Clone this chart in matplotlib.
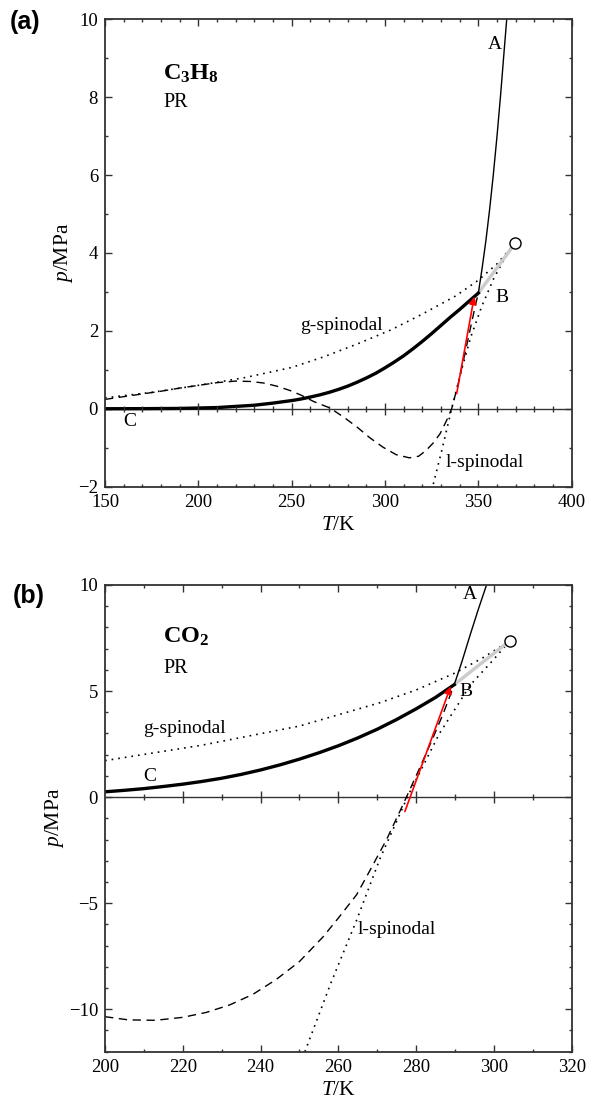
import numpy as np
import matplotlib.pyplot as plt
from matplotlib.ticker import MultipleLocator

plt.rcParams['font.family'] = 'Liberation Serif'
plt.rcParams['mathtext.fontset'] = 'custom'
plt.rcParams['mathtext.rm'] = 'Liberation Serif'
plt.rcParams['mathtext.it'] = 'Liberation Serif:italic'
plt.rcParams['mathtext.bf'] = 'Liberation Serif:bold'

# (a) propane, Peng-Robinson
T_sat_a = [150, 170, 190, 210, 230, 240, 250, 255, 260, 265, 270, 275, 280, 285, 290, 295,
           300, 305, 310, 315, 320, 325, 330, 335, 340, 345, 350]
p_sat_a = [0.0003, 0.002, 0.008, 0.03, 0.09, 0.145, 0.21, 0.25, 0.30, 0.355, 0.42, 0.495, 0.58,
           0.68, 0.79, 0.91, 1.05, 1.20, 1.36, 1.54, 1.73, 1.93, 2.14, 2.35, 2.55, 2.76, 2.97]

T_A_a = [350.0, 352.0, 354.0, 356.0, 358.0, 360.0, 362.0, 364.0, 365.2, 366.0]
p_A_a = [2.97, 3.60, 4.30, 5.10, 6.00, 7.00, 8.10, 9.30, 10.0, 10.5]

T_gsp_a = [150, 175, 200, 225, 250, 267, 285, 303, 320, 338, 350, 360, 369.7]
p_gsp_a = [0.28, 0.42, 0.60, 0.80, 1.06, 1.33, 1.66, 2.02, 2.43, 2.90, 3.30, 3.72, 4.25]

T_lsp_a = [325.0, 330.0, 335.7, 341.0, 346.0, 352.0, 358.3, 364.0, 369.7]
p_lsp_a = [-2.10, -1.15, 0.00, 1.00, 1.85, 2.65, 3.35, 3.85, 4.25]

T_dash_a = [150, 160, 170, 180, 190, 200, 210, 220, 228, 235, 242, 249, 255, 262, 270.5,
            278, 285, 292, 299, 306, 313, 318, 322, 326, 329.5, 333, 335.7, 339, 342, 345, 348.2, 350]
p_dash_a = [0.24, 0.31, 0.38, 0.45, 0.53, 0.60, 0.67, 0.71, 0.70, 0.66, 0.58, 0.47, 0.35, 0.18, 0.02,
            -0.22, -0.47, -0.75, -0.99, -1.18, -1.26, -1.22, -1.07, -0.87, -0.64, -0.30, 0.00, 0.60,
            1.24, 1.90, 2.61, 2.97]

arrow_a = [(338.4, 0.39), (347.8, 2.88)]
crit_a = (369.7, 4.25)
B_a = (350.0, 2.97)

# (b) carbon dioxide, Peng-Robinson
T_sat_b = [200, 205, 210, 215, 220, 225, 230, 235, 240, 245, 250, 255, 260, 265, 270, 275,
           280, 285, 289.8]
p_sat_b = [0.25, 0.32, 0.40, 0.50, 0.61, 0.74, 0.89, 1.07, 1.28, 1.52, 1.79, 2.09, 2.42, 2.79,
           3.20, 3.66, 4.16, 4.70, 5.30]

T_A_b = [289.8, 291.8, 293.9, 295.9, 298.1, 298.6]
p_A_b = [5.30, 6.40, 7.65, 8.80, 10.0, 10.3]

T_gsp_b = [200, 225, 250, 270.7, 280, 290, 297, 304.1]
p_gsp_b = [1.72, 2.45, 3.35, 4.45, 5.05, 5.85, 6.55, 7.37]

T_lsp_b = [251.4, 258, 264.7, 270.7, 278, 286, 294, 300, 304.1]
p_lsp_b = [-12.0, -8.8, -5.8, -2.9, 0.1, 3.0, 5.3, 6.5, 7.37]

T_dash_b = [200, 206, 213, 220, 226, 232, 238, 244, 250, 256, 260, 264.7, 268, 272.4,
            276, 280, 284, 287, 289.8]
p_dash_b = [-10.35, -10.50, -10.52, -10.38, -10.15, -9.80, -9.30, -8.60, -7.75, -6.60, -5.70,
            -4.60, -3.50, -2.00, -0.60, 1.00, 2.65, 3.95, 5.30]

arrow_b = [(277.1, -0.68), (288.9, 5.22)]
crit_b = (304.1, 7.37)
B_b = (289.8, 5.30)

SPINE = '#333333'
DOTS = (0, (1, 3))
DASH = (0, (6, 4))


def draw_panel(ax, T_sat, p_sat, T_A, p_A, T_gsp, p_gsp, T_lsp, p_lsp, T_dash, p_dash,
               arrow, crit, B):
    ax.plot(T_gsp, p_gsp, color='black', lw=1.2, ls=DOTS)
    ax.plot(T_lsp, p_lsp, color='black', lw=1.2, ls=DOTS)
    ax.plot(T_dash, p_dash, color='black', lw=1.0, ls=DASH)
    ax.plot([B[0], crit[0]], [B[1], crit[1]], color='#cccccc', lw=2.5, solid_capstyle='butt')
    ax.plot(T_sat, p_sat, color='black', lw=2.4)
    ax.plot(T_A, p_A, color='black', lw=1.0)
    ax.annotate('', xy=arrow[1], xytext=arrow[0],
                arrowprops=dict(arrowstyle='-|>', color='red', lw=1.2,
                                mutation_scale=11, shrinkA=0, shrinkB=0))
    ax.plot(*crit, marker='o', ms=8, mfc='white', mec='black', mew=1.0, zorder=5)


def style_axes(ax, xlim, ylim, xmaj, xmin, ymaj, ymin):
    ax.set_xlim(*xlim)
    ax.set_ylim(*ylim)
    ax.xaxis.set_major_locator(MultipleLocator(xmaj))
    ax.xaxis.set_minor_locator(MultipleLocator(xmin))
    ax.yaxis.set_major_locator(MultipleLocator(ymaj))
    ax.yaxis.set_minor_locator(MultipleLocator(ymin))
    ax.tick_params(which='both', direction='in', top=True, right=True,
                   color=SPINE, width=1.0, labelsize=13.5, pad=5)
    ax.tick_params(which='major', length=5)
    ax.tick_params(which='minor', length=2.5)
    for s in ax.spines.values():
        s.set_color(SPINE)
        s.set_linewidth(1.3)
    # horizontal axis line at p = 0 with its own ticks
    ax.axhline(0, color=SPINE, lw=1.0, zorder=1)
    major = np.arange(xlim[0] + xmaj, xlim[1], xmaj)
    minor = np.arange(xlim[0] + xmin, xlim[1], xmin)
    minor = [t for t in minor if not np.isclose(major, t).any()]
    ax.plot(major, np.zeros(len(major)), ls='none', marker='|', ms=8, mew=1.0, color=SPINE)
    ax.plot(minor, np.zeros(len(minor)), ls='none', marker='|', ms=4.5, mew=1.0, color=SPINE)
    ax.set_xlabel(r'$\mathit{T}$/K', fontsize=15.5, labelpad=4)
    ax.set_ylabel(r'$\mathit{p}$/MPa', fontsize=15.5, labelpad=2)


fig = plt.figure(figsize=(5.89, 11.06), dpi=100)
ax1 = fig.add_axes([0.1783, 0.5600, 0.7923, 0.4226])
ax2 = fig.add_axes([0.1783, 0.0491, 0.7923, 0.4220])

draw_panel(ax1, T_sat_a, p_sat_a, T_A_a, p_A_a, T_gsp_a, p_gsp_a, T_lsp_a, p_lsp_a,
           T_dash_a, p_dash_a, arrow_a, crit_a, B_a)
style_axes(ax1, (150, 400), (-2, 10), 50, 10, 2, 1)

draw_panel(ax2, T_sat_b, p_sat_b, T_A_b, p_A_b, T_gsp_b, p_gsp_b, T_lsp_b, p_lsp_b,
           T_dash_b, p_dash_b, arrow_b, crit_b, B_b)
style_axes(ax2, (200, 320), (-12, 10), 20, 10, 5, 1)

lbl = dict(fontsize=14, ha='center', va='center')
ax1.text(358.9, 9.34, 'A', **lbl)
ax1.text(362.5, 2.85, 'B', **lbl)
ax1.text(163.4, -0.34, 'C', **lbl)
ax1.text(276.7, 2.14, 'g-spinodal', **lbl)
ax1.text(353.6, -1.37, 'l-spinodal', **lbl)
ax1.text(181.2, 8.44, r'$\mathbf{C_3H_8}$', fontsize=17.5, ha='left', va='baseline')
ax1.text(181.2, 7.74, 'PR', fontsize=14.5, ha='left', va='baseline')

ax2.text(293.9, 9.54, 'A', **lbl)
ax2.text(292.7, 4.98, 'B', **lbl)
ax2.text(211.6, 0.97, 'C', **lbl)
ax2.text(220.3, 3.25, 'g-spinodal', **lbl)
ax2.text(275.0, -6.26, 'l-spinodal', **lbl)
ax2.text(215.0, 7.26, r'$\mathbf{CO_2}$', fontsize=17.5, ha='left', va='baseline')
ax2.text(215.0, 5.85, 'PR', fontsize=14.5, ha='left', va='baseline')

fig.text(10 / 589, 1 - 10 / 1106, '(a)', family='Liberation Sans', weight='bold',
         fontsize=18, ha='left', va='top')
fig.text(13 / 589, 1 - 584 / 1106, '(b)', family='Liberation Sans', weight='bold',
         fontsize=18, ha='left', va='top')

fig.savefig('out.png', dpi=100)
